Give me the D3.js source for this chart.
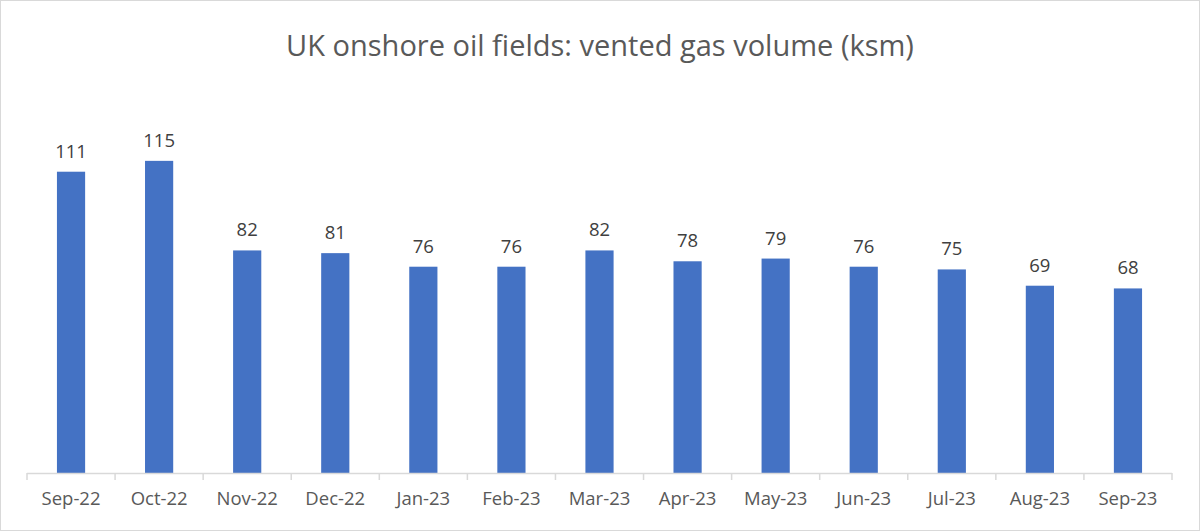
<!DOCTYPE html>
<html><head><meta charset="utf-8">
<script src="https://cdn.jsdelivr.net/npm/d3@7"></script>
<style>html,body{margin:0;padding:0;background:#fff;}svg{display:block;}</style>
</head><body>
<script>
const categories = ["Sep-22","Oct-22","Nov-22","Dec-22","Jan-23","Feb-23","Mar-23","Apr-23","May-23","Jun-23","Jul-23","Aug-23","Sep-23"];
const values = [111,115,82,81,76,76,82,78,79,76,75,69,68];
const title = "UK onshore oil fields: vented gas volume (ksm)";

const W = 1200, H = 531;
const margin = {left: 27, right: 28, top: 93, bottom: 58};
const svg = d3.select("body").append("svg").attr("width", W).attr("height", H);
svg.append("rect").attr("x",0.5).attr("y",0.5).attr("width",W-1).attr("height",H-1)
  .attr("fill","#fff").attr("stroke","#d9d9d9");

const x = d3.scaleBand().domain(categories).range([margin.left, W - margin.right]).paddingInner(0.68).paddingOuter(0.34);
const y = d3.scaleLinear().domain([0, 140]).range([H - margin.bottom, margin.top]);

const font = "'Open Sans', 'Liberation Sans', sans-serif";
svg.append("text").attr("x", 600).attr("y", 56).attr("text-anchor","middle")
  .attr("font-family", font).attr("font-size", 29).attr("fill","#595959").text(title);

svg.selectAll("rect.bar").data(values).join("rect").attr("class","bar")
  .attr("x",(d,i)=>x(categories[i])).attr("width",x.bandwidth())
  .attr("y",d=>y(d)).attr("height",d=>y(0)-y(d)).attr("fill","#4472C4");

svg.selectAll("text.val").data(values).join("text").attr("class","val")
  .attr("x",(d,i)=>x(categories[i])+x.bandwidth()/2).attr("y",d=>y(d)-14)
  .attr("text-anchor","middle").attr("font-family",font).attr("font-size",18.5).attr("fill","#404040").text(d=>d);

// axis with ticks between categories
const step = x.step();
const axisG = svg.append("g");
axisG.append("line").attr("x1",margin.left).attr("x2",W-margin.right).attr("y1",y(0)+0.5).attr("y2",y(0)+0.5)
  .attr("stroke","#d9d9d9").attr("stroke-width",1.5);
const tickPos = d3.range(categories.length+1).map(i => x(categories[0]) - x.paddingOuter()*step + i*step);
axisG.selectAll("line.tk").data(tickPos).join("line").attr("class","tk")
  .attr("x1",d=>d).attr("x2",d=>d).attr("y1",y(0)).attr("y2",y(0)+7).attr("stroke","#d9d9d9").attr("stroke-width",1.5);
axisG.selectAll("text.cat").data(categories).join("text").attr("class","cat")
  .attr("x",d=>x(d)+x.bandwidth()/2).attr("y",y(0)+32).attr("text-anchor","middle")
  .attr("font-family",font).attr("font-size",18.5).attr("fill","#595959").text(d=>d);
</script>
</body></html>
